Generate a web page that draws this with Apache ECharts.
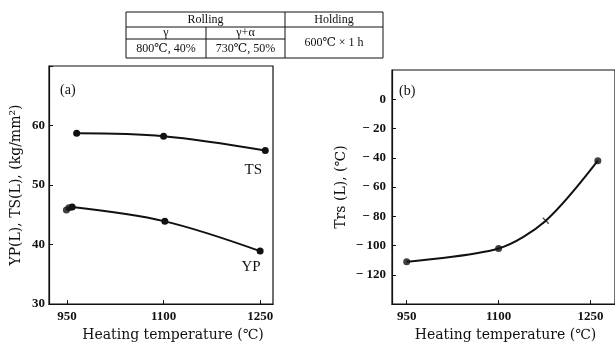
<!DOCTYPE html>
<html><head><meta charset="utf-8">
<script src="https://cdn.jsdelivr.net/npm/echarts@6/dist/echarts.min.js"></script>
<style>html,body{margin:0;padding:0;background:#fff}#c{width:615px;height:347px}</style>
</head><body><div id="c"></div>
<script>
// Panel (a): strength vs heating temperature
const tsTemp = [965, 1100, 1258];
const tsVal  = [58.7, 58.2, 55.8];
const ypTemp = [949, 953, 958, 1102, 1250];
const ypVal  = [45.8, 46.2, 46.3, 43.9, 38.9];
// Panel (b): Trs vs heating temperature
const trsTemp = [950, 1100, 1177, 1262];
const trsVal  = [-111, -102, -83, -42];
const trsMarker = ['dot', 'dot', 'cross', 'dot'];
const xTicks = [950, 1100, 1250];
const yTicksA = [30, 40, 50, 60];
const yTicksB = [0, -20, -40, -60, -80, -100, -120];

const FONT = '"Liberation Serif", "DejaVu Serif", serif';
const WFONT = '"DejaVu Serif", serif';
const INK = '#111';
const chart = echarts.init(document.getElementById('c'));

const axisCommon = {
  axisLine: { show: true, onZero: false, lineStyle: { color: INK, width: 1.2 } },
  axisTick: { show: true, inside: true, length: 4, lineStyle: { color: INK } },
  splitLine: { show: false },
  axisLabel: { color: INK, fontFamily: FONT, fontSize: 13, fontWeight: 'bold', formatter: v => String(v) },
  nameTextStyle: { color: INK, fontFamily: WFONT, fontSize: 14 }
};

function pairs(xs, ys) { return xs.map((x, i) => [x, ys[i]]); }

const crossPath = 'path://M0,0L10,10M10,0L0,10';

// Table
const tblL = 126, tblR = 383, tblT = 12, tblB = 58, c1 = 206, c2 = 285, r1 = 27, r2 = 39;
const tLine = (x1, y1, x2, y2) => ({ type: 'line', shape: { x1, y1, x2, y2 }, style: { stroke: INK, lineWidth: 1 } });
const tText = (x, y, t) => ({ type: 'text', x, y, style: { text: t, fill: INK, font: '12px ' + FONT, align: 'center', verticalAlign: 'middle' } });

chart.setOption({
  backgroundColor: '#fff',
  animation: false,
  grid: [
    { left: 49, top: 66, width: 224, height: 250, show: true, borderColor: INK, borderWidth: 1.2, backgroundColor: 'transparent' },
    { left: 392, top: 70, width: 226, height: 245, show: true, borderColor: INK, borderWidth: 1.2, backgroundColor: 'transparent' }
  ],
  xAxis: [
    Object.assign({}, axisCommon, {
      gridIndex: 0, type: 'value', min: 922, max: 1270,
      axisTick: Object.assign({}, axisCommon.axisTick, { customValues: xTicks }),
      axisLabel: Object.assign({}, axisCommon.axisLabel, { customValues: xTicks, margin: 6 }),
      name: 'Heating temperature (℃)', nameLocation: 'middle', nameGap: 22,
      nameTextStyle: Object.assign({}, axisCommon.nameTextStyle, { padding: [0, 0, 0, 24] })
    }),
    Object.assign({}, axisCommon, {
      gridIndex: 1, type: 'value', min: 926, max: 1290,
      axisTick: Object.assign({}, axisCommon.axisTick, { customValues: xTicks }),
      axisLabel: Object.assign({}, axisCommon.axisLabel, { customValues: xTicks, margin: 6 }),
      name: 'Heating temperature (℃)', nameLocation: 'middle', nameGap: 22,
      nameTextStyle: Object.assign({}, axisCommon.nameTextStyle, { padding: [0, 0, 0, 4] })
    })
  ],
  yAxis: [
    Object.assign({}, axisCommon, {
      gridIndex: 0, type: 'value', min: 30, max: 70, interval: 10,
      axisLabel: Object.assign({}, axisCommon.axisLabel, { customValues: yTicksA, margin: 4 }),
      name: 'YP(L), TS(L), (kg/mm²)', nameLocation: 'middle', nameGap: 26
    }),
    Object.assign({}, axisCommon, {
      gridIndex: 1, type: 'value', min: -140, max: 20, interval: 20,
      axisLabel: Object.assign({}, axisCommon.axisLabel, { customValues: yTicksB, margin: 6,
        formatter: v => v === 0 ? '0' : '− ' + Math.abs(v) }),
      axisTick: Object.assign({}, axisCommon.axisTick, { customValues: yTicksB }),
      name: 'Trs (L), (℃)', nameLocation: 'middle', nameGap: 44
    })
  ],
  series: [
    { type: 'line', xAxisIndex: 0, yAxisIndex: 0, smooth: 0.35, data: pairs(tsTemp, tsVal),
      symbol: 'circle', symbolSize: 7, itemStyle: { color: INK }, lineStyle: { color: INK, width: 2 },
      label: { show: true, formatter: p => p.dataIndex === tsTemp.length - 1 ? 'TS' : '', position: 'bottom', offset: [-12, 4],
        color: INK, fontFamily: FONT, fontSize: 15 } },
    { type: 'line', xAxisIndex: 0, yAxisIndex: 0, smooth: 0.35, data: pairs(ypTemp, ypVal).slice(2),
      symbol: 'circle', symbolSize: 7, itemStyle: { color: INK }, lineStyle: { color: INK, width: 2 },
      label: { show: true, formatter: p => p.dataIndex === ypTemp.length - 3 ? 'YP' : '', position: 'bottom', offset: [-9, 0],
        color: INK, fontFamily: FONT, fontSize: 15 } },
    { type: 'scatter', xAxisIndex: 0, yAxisIndex: 0, data: pairs(ypTemp, ypVal).slice(0, 2),
      symbol: 'circle', symbolSize: 7, itemStyle: { color: INK } },
    { type: 'line', xAxisIndex: 1, yAxisIndex: 1, smooth: 0.3, data: pairs(trsTemp, trsVal),
      symbol: 'none', lineStyle: { color: INK, width: 2 } },
    { type: 'scatter', xAxisIndex: 1, yAxisIndex: 1,
      data: trsTemp.map((x, i) => ({ value: [x, trsVal[i]],
        symbol: trsMarker[i] === 'cross' ? crossPath : 'circle',
        symbolSize: trsMarker[i] === 'cross' ? 6 : 7,
        itemStyle: trsMarker[i] === 'cross' ? { color: 'none', borderColor: INK, borderWidth: 1.2 } : { color: INK } })) }
  ],
  graphic: [
    { type: 'text', x: 60, y: 83, style: { text: '(a)', fill: INK, font: '14px ' + FONT } },
    { type: 'text', x: 399, y: 84, style: { text: '(b)', fill: INK, font: '14px ' + FONT } },
    tLine(tblL, tblT, tblR, tblT),
    tLine(tblL, tblB, tblR, tblB),
    tLine(tblL, r1, tblR, r1),
    tLine(tblL, r2, c2, r2),
    tLine(tblL, tblT, tblL, tblB),
    tLine(tblR, tblT, tblR, tblB),
    tLine(c2, tblT, c2, tblB),
    tLine(c1, r1, c1, tblB),
    tText((tblL + c2) / 2, (tblT + r1) / 2, 'Rolling'),
    tText((c2 + tblR) / 2, (tblT + r1) / 2, 'Holding'),
    tText((tblL + c1) / 2, (r1 + r2) / 2, 'γ'),
    tText((c1 + c2) / 2, (r1 + r2) / 2, 'γ+α'),
    tText((tblL + c1) / 2, (r2 + tblB) / 2, '800℃, 40%'),
    tText((c1 + c2) / 2, (r2 + tblB) / 2, '730℃, 50%'),
    tText((c2 + tblR) / 2, (r1 + tblB) / 2, '600℃ × 1 h')
  ]
});
</script></body></html>
